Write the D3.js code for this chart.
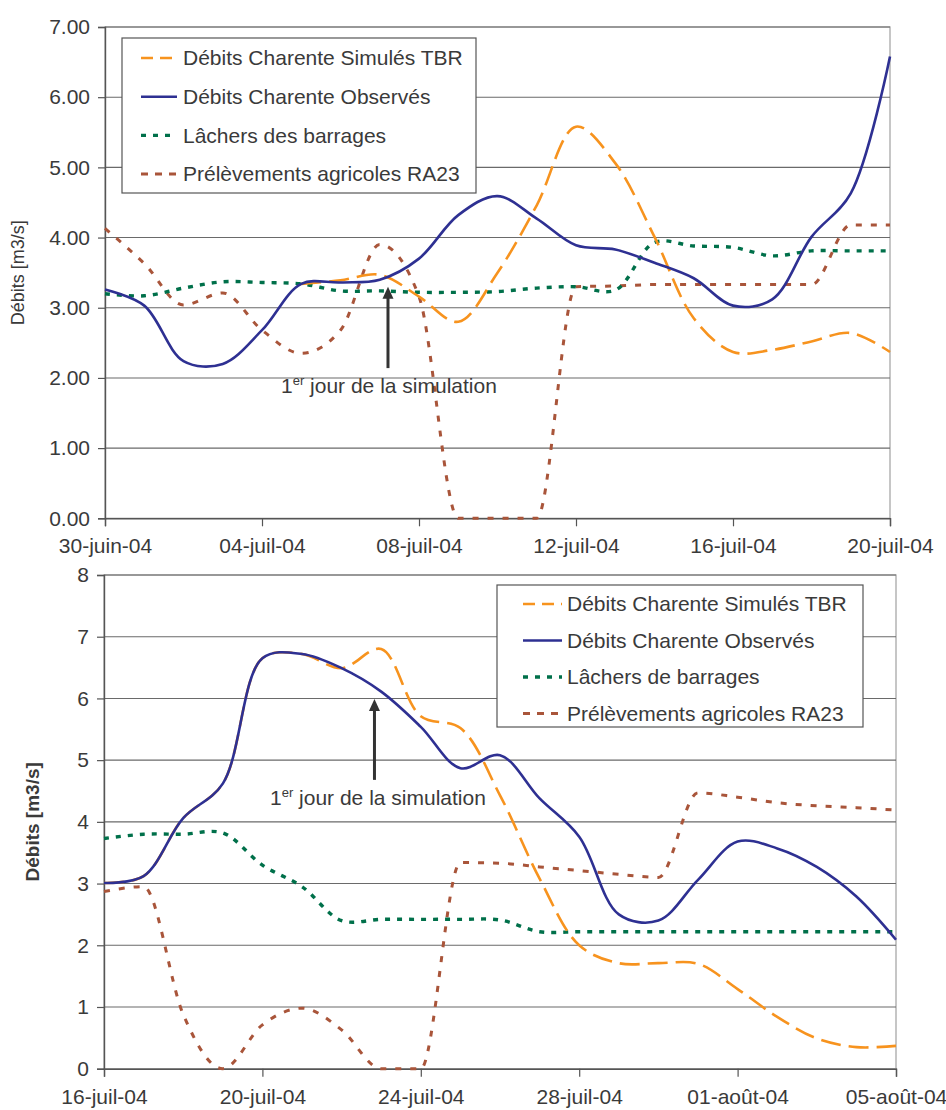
<!DOCTYPE html>
<html><head><meta charset="utf-8">
<script src="https://cdn.jsdelivr.net/npm/d3@7"></script>
<style>
html,body{margin:0;padding:0;background:#fff;}
svg{display:block;font-family:"Liberation Sans",Arial,sans-serif;}
</style></head>
<body>
<svg id="c" width="946" height="1110"></svg>
<script>
// ---------- DATA ----------
const topDates = ["2004-06-30","2004-07-01","2004-07-02","2004-07-03","2004-07-04","2004-07-05","2004-07-06","2004-07-07","2004-07-08","2004-07-09","2004-07-10","2004-07-11","2004-07-12","2004-07-13","2004-07-14","2004-07-15","2004-07-16","2004-07-17","2004-07-18","2004-07-19","2004-07-20"];
const topSimules = [null,null,null,null,null,3.34,3.39,3.47,3.16,2.80,3.50,4.46,5.58,5.06,4.01,2.85,2.37,2.40,2.52,2.64,2.37];
const topObserves = [3.26,3.03,2.24,2.20,2.68,3.34,3.36,3.40,3.70,4.32,4.59,4.27,3.89,3.83,3.64,3.42,3.03,3.12,4.01,4.63,6.58];
const topLachers = [3.20,3.17,3.28,3.37,3.36,3.34,3.24,3.24,3.22,3.22,3.23,3.28,3.30,3.25,3.93,3.88,3.86,3.74,3.81,3.81,3.81];
const topPrelev = [4.13,3.63,3.04,3.21,2.68,2.35,2.68,3.90,3.16,0,0,0,3.30,3.31,3.33,3.33,3.33,3.33,3.33,4.18,4.18];
const topTickDates = ["2004-06-30","2004-07-04","2004-07-08","2004-07-12","2004-07-16","2004-07-20"];
const topTickLabels = ["30-juin-04","04-juil-04","08-juil-04","12-juil-04","16-juil-04","20-juil-04"];
const topYTicks = [0,1,2,3,4,5,6,7];
const topLegend = ["Débits Charente Simulés TBR","Débits Charente Observés","Lâchers des barrages","Prélèvements agricoles RA23"];

const botDates = ["2004-07-16","2004-07-17","2004-07-18","2004-07-19","2004-07-20","2004-07-21","2004-07-22","2004-07-23","2004-07-24","2004-07-25","2004-07-26","2004-07-27","2004-07-28","2004-07-29","2004-07-30","2004-07-31","2004-08-01","2004-08-02","2004-08-03","2004-08-04","2004-08-05"];
const botSimules = [3.01,3.12,4.06,4.62,6.65,6.72,6.49,6.80,5.71,5.52,4.43,3.08,2.00,1.71,1.71,1.70,1.29,0.84,0.49,0.35,0.37];
const botObserves = [3.01,3.12,4.06,4.62,6.65,6.72,6.49,6.11,5.54,4.87,5.08,4.38,3.76,2.50,2.40,3.06,3.68,3.57,3.27,2.79,2.09];
const botLachers = [3.73,3.80,3.80,3.82,3.30,2.95,2.40,2.42,2.42,2.42,2.41,2.22,2.22,2.22,2.22,2.22,2.22,2.22,2.22,2.22,2.22];
const botPrelev = [2.87,2.95,0.88,0,0.71,0.98,0.63,0,0,3.34,3.33,3.27,3.21,3.15,3.10,4.47,4.40,4.31,4.26,4.23,4.19];
const botTickDates = ["2004-07-16","2004-07-20","2004-07-24","2004-07-28","2004-08-01","2004-08-05"];
const botTickLabels = ["16-juil-04","20-juil-04","24-juil-04","28-juil-04","01-août-04","05-août-04"];
const botYTicks = [0,1,2,3,4,5,6,7,8];
const botLegend = ["Débits Charente Simulés TBR","Débits Charente Observés","Lâchers de barrages","Prélèvements agricoles RA23"];

const annotation = "jour de la simulation";

// ---------- STYLES ----------
const styles = [
  {color:"#F7931E", width:2.6, dash:"20,8", curve:d3.curveCatmullRom.alpha(0.5), legDash:"12,7"},
  {color:"#2E3092", width:2.6, dash:null, curve:d3.curveCatmullRom.alpha(0.5), legDash:null},
  {color:"#00704A", width:3.4, dash:"5,7", curve:d3.curveCatmullRom.alpha(0.5), legDash:"5,7"},
  {color:"#A9553A", width:3, dash:"6,9", curve:d3.curveMonotoneX, legDash:"7,7"}
];
const textColor = "#3a3a3a";
const fs = 21;
const parse = d3.timeParse("%Y-%m-%d");
const svg = d3.select("#c");

function drawChart(cfg){
  const g = svg.append("g");
  const x = d3.scaleTime().domain([parse(cfg.dates[0]), parse(cfg.dates[cfg.dates.length-1])]).range([cfg.left, cfg.right]);
  const y = d3.scaleLinear().domain([0, cfg.ymax]).range([cfg.bottom, cfg.top]);

  g.append("rect").attr("x",cfg.left).attr("y",cfg.top).attr("width",cfg.right-cfg.left).attr("height",cfg.bottom-cfg.top)
    .attr("fill","none").attr("stroke","#a8a8a8").attr("stroke-width",1.3);
  g.append("g").selectAll("line").data(cfg.yTicks.filter(v=>v>0)).join("line")
    .attr("x1",cfg.left).attr("x2",cfg.right).attr("y1",d=>y(d)).attr("y2",d=>y(d))
    .attr("stroke","#6a6a6a").attr("stroke-width",1.1);

  const ya = d3.axisLeft(y).tickValues(cfg.yTicks).tickFormat(cfg.yFmt).tickSize(7).tickPadding(8);
  const yg = g.append("g").attr("transform",`translate(${cfg.left},0)`).call(ya);
  const xa = d3.axisBottom(x).tickValues(cfg.tickDates.map(parse)).tickFormat((d,i)=>cfg.tickLabels[i]).tickSize(8).tickPadding(12);
  const xg = g.append("g").attr("transform",`translate(0,${cfg.bottom})`).call(xa);
  [yg,xg].forEach(a=>{
    a.select(".domain").attr("stroke","#555").attr("stroke-width",1.4);
    a.selectAll(".tick line").attr("stroke","#555").attr("stroke-width",1.2);
    a.selectAll("text").attr("fill",textColor).attr("font-size",fs).attr("font-family","Liberation Sans, Arial, sans-serif");
  });

  g.append("text").attr("transform",`translate(${cfg.ytitleX},${(cfg.top+cfg.bottom)/2}) rotate(-90)`)
    .attr("text-anchor","middle").attr("fill",textColor).attr("font-size",cfg.ytitleSize)
    .attr("font-weight",cfg.ytitleBold?"bold":"normal").text("Débits [m3/s]");

  const series = [cfg.sim, cfg.obs, cfg.lach, cfg.prel];
  const order = [3,2,0,1];
  order.forEach(si=>{
    const st = styles[si];
    const data = cfg.dates.map((d,i)=>({d:parse(d), v:series[si][i]}));
    const line = d3.line().defined(p=>p.v!==null).x(p=>x(p.d)).y(p=>y(p.v)).curve(st.curve);
    g.append("path").datum(data).attr("d",line).attr("fill","none")
      .attr("stroke",st.color).attr("stroke-width",st.width)
      .attr("stroke-dasharray",st.dash).attr("stroke-linejoin","round");
  });

  const ax = x(parse(cfg.arrow.date)) + cfg.arrow.dayOffset*(x(parse(cfg.dates[1]))-x(parse(cfg.dates[0])));
  const yTip = y(cfg.arrow.tip), yBase = y(cfg.arrow.base);
  g.append("line").attr("x1",ax).attr("x2",ax).attr("y1",yBase).attr("y2",yTip+10)
    .attr("stroke","#333").attr("stroke-width",3);
  g.append("path").attr("d",`M${ax},${yTip} L${ax-5.5},${yTip+12} L${ax+5.5},${yTip+12} Z`).attr("fill","#333");
  const t = g.append("text").attr("x",cfg.arrow.textX).attr("y",y(cfg.arrow.textV)).attr("fill",textColor).attr("font-size",fs);
  t.append("tspan").text("1");
  t.append("tspan").attr("font-size",13).attr("dy",-8).text("er");
  t.append("tspan").attr("dy",8).text(" " + annotation);

  const L = cfg.legend;
  g.append("rect").attr("x",L.x).attr("y",L.y).attr("width",L.w).attr("height",L.h)
    .attr("fill","#fff").attr("stroke","#555").attr("stroke-width",1.2);
  cfg.legendLabels.forEach((lab,i)=>{
    const st = styles[i];
    const cy = L.y + L.first + i*L.step;
    g.append("line").attr("x1",L.sx1).attr("x2",L.sx2).attr("y1",cy).attr("y2",cy)
      .attr("stroke",st.color).attr("stroke-width",st.width).attr("stroke-dasharray",st.legDash);
    g.append("text").attr("x",L.tx).attr("y",cy).attr("dy","0.35em").attr("fill",textColor).attr("font-size",fs).text(lab);
  });
}

drawChart({
  dates:topDates, sim:topSimules, obs:topObserves, lach:topLachers, prel:topPrelev,
  tickDates:topTickDates, tickLabels:topTickLabels, yTicks:topYTicks, yFmt:d3.format(".2f"), ymax:7,
  left:105, right:890, top:27, bottom:518.3,
  ytitleX:24, ytitleSize:18, ytitleBold:false,
  arrow:{date:"2004-07-07", dayOffset:0.21, tip:3.30, base:2.14, textX:281, textV:1.79},
  legend:{x:122, y:38, w:354, h:155, first:20, step:38.7, sx1:141, sx2:177, tx:183},
  legendLabels:topLegend
});
drawChart({
  dates:botDates, sim:botSimules, obs:botObserves, lach:botLachers, prel:botPrelev,
  tickDates:botTickDates, tickLabels:botTickLabels, yTicks:botYTicks, yFmt:d3.format("d"), ymax:8,
  left:104, right:896, top:575, bottom:1068.7,
  ytitleX:39, ytitleSize:19, ytitleBold:true,
  arrow:{date:"2004-07-22", dayOffset:0.83, tip:5.99, base:4.68, textX:270, textV:4.27},
  legend:{x:497, y:585, w:366, h:142, first:19, step:36.5, sx1:523, sx2:562, tx:567},
  legendLabels:botLegend
});
</script>
</body></html>
